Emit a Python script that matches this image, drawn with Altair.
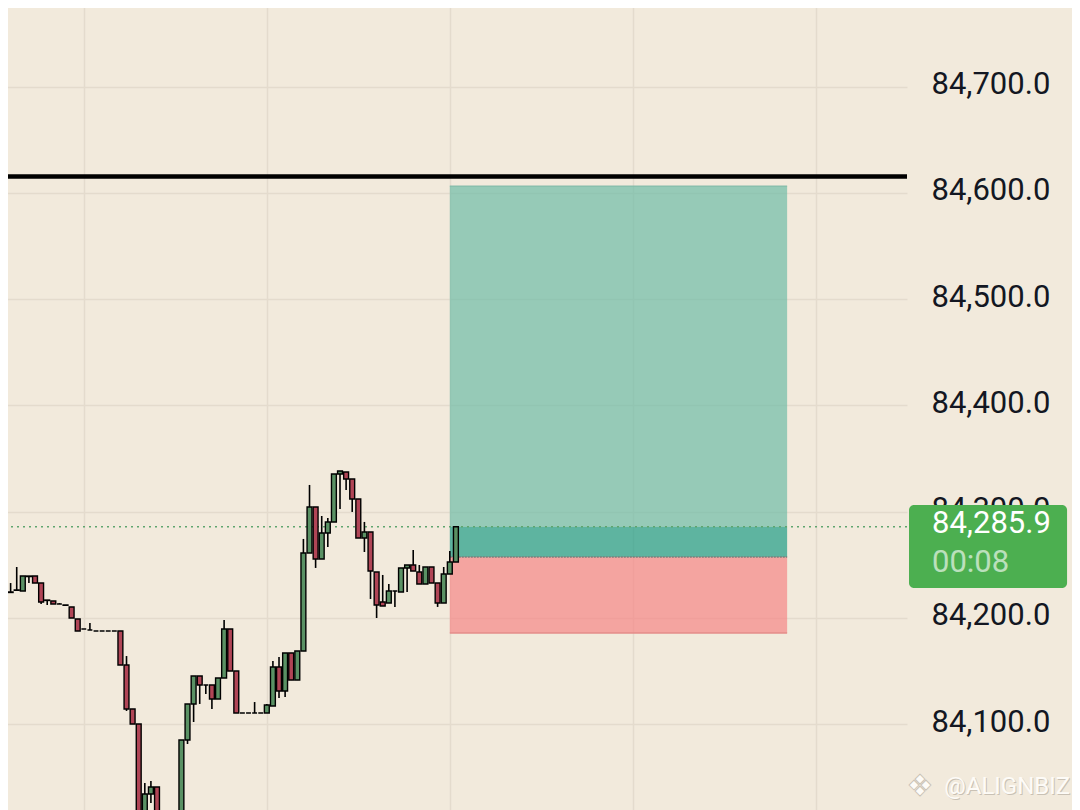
import altair as alt
import pandas as pd

# ---- candle data (index, OHLC) ----
opens = [84241.4, 84224.5, 84226.4, 84225.4, 84239.5, 84239.5, 84232.9, 84216.9, 84216.0, 84213.2,
         84212.2, 84210.4, 84199.1, 84189.6, 84188.7, 84187.8, 84187.8, 84187.8, 84187.8, 84187.8,
         84155.8, 84114.4, 84100.2, 84005.0, 84034.4, 84040.9, 84000.0, 83970.0, 83985.0, 84000.0,
         84085.2, 84119.1, 84145.4, 84136.9, 84136.9, 84123.8, 84143.5, 84189.6, 84150.1, 84110.6,
         84110.6, 84110.6, 84110.6, 84110.6, 84117.2, 84153.9, 84131.3, 84167.1, 84141.6, 84168.9,
         84261.2, 84304.5, 84255.5, 84280.0, 84290.4, 84335.5, 84337.4, 84330.8, 84312.0, 84275.3,
         84280.9, 84243.3, 84215.1, 84214.1, 84225.4, 84224.5, 84247.1, 84249.9, 84243.3, 84232.0,
         84248.0, 84232.9, 84214.1, 84241.4, 84252.7]
highs = [84241.4, 84232.9, 84248.0, 84239.5, 84239.5, 84239.5, 84232.9, 84216.9, 84216.0, 84214.0,
         84212.2, 84210.4, 84199.1, 84189.6, 84195.3, 84187.8, 84187.8, 84187.8, 84187.8, 84187.8,
         84164.2, 84114.4, 84100.2, 84044.7, 84046.6, 84040.9, 84005.0, 83990.0, 84008.0, 84085.2,
         84119.1, 84145.4, 84145.4, 84136.9, 84136.9, 84143.5, 84198.1, 84189.6, 84150.1, 84110.6,
         84110.6, 84120.9, 84110.6, 84119.1, 84159.5, 84163.3, 84167.1, 84167.1, 84168.9, 84274.4,
         84325.2, 84304.5, 84296.0, 84294.1, 84335.5, 84338.3, 84337.4, 84330.8, 84312.0, 84290.4,
         84280.9, 84243.3, 84240.5, 84232.0, 84225.4, 84247.1, 84249.9, 84264.0, 84249.9, 84248.0,
         84248.0, 84232.9, 84248.0, 84263.1, 84285.9]
lows = [84224.5, 84224.0, 84225.5, 84225.4, 84232.9, 84232.9, 84213.2, 84212.2, 84213.2, 84213.2,
        84212.0, 84200.0, 84187.8, 84189.6, 84188.7, 84187.8, 84187.8, 84187.8, 84187.8, 84155.8,
        84112.5, 84100.2, 83980.0, 83995.0, 84025.9, 83995.0, 83960.0, 83955.0, 83975.0, 83990.0,
        84081.4, 84102.1, 84119.1, 84128.5, 84114.4, 84123.8, 84143.5, 84150.1, 84110.6, 84110.6,
        84110.6, 84110.6, 84110.6, 84110.6, 84117.2, 84124.7, 84125.6, 84141.6, 84141.6, 84168.9,
        84261.2, 84247.1, 84255.5, 84266.8, 84290.4, 84302.6, 84320.5, 84299.8, 84275.3, 84262.1,
        84217.9, 84200.0, 84211.3, 84214.1, 84210.4, 84224.5, 84224.5, 84244.2, 84232.0, 84232.0,
        84232.9, 84210.4, 84214.1, 84241.4, 84252.7]
closes = [84224.5, 84224.0, 84226.0, 84239.5, 84239.0, 84232.9, 84215.1, 84216.5, 84213.2, 84213.2,
          84212.0, 84200.0, 84187.8, 84189.6, 84188.7, 84187.8, 84187.8, 84187.8, 84187.8, 84155.8,
          84114.4, 84100.2, 83985.0, 84034.4, 84040.9, 84000.0, 83970.0, 83985.0, 84000.0, 84085.2,
          84119.1, 84145.4, 84136.9, 84136.9, 84123.8, 84143.5, 84189.6, 84150.1, 84110.6, 84110.6,
          84110.6, 84110.6, 84110.6, 84118.1, 84153.9, 84131.3, 84167.1, 84141.6, 84168.9, 84261.2,
          84304.5, 84255.5, 84280.0, 84290.4, 84335.5, 84338.3, 84330.8, 84312.0, 84275.3, 84280.9,
          84244.2, 84212.2, 84211.3, 84225.4, 84225.4, 84247.1, 84249.9, 84244.2, 84232.0, 84248.0,
          84232.9, 84214.1, 84241.4, 84252.7, 84285.9]

# ---- levels / annotations ----
price_ticks = [84100, 84200, 84300, 84400, 84500, 84600, 84700]
time_grid = [13, 43, 73, 103, 133]
resistance_level = 84615.5
last_price = 84285.9
last_price_text = "84,285.9"
countdown_text = "00:08"
entry_price = 84257.4
target_price = 84606.5
stop_price = 84185.8
position_start = 73
position_end = 128.3
watermark = "@ALIGNBIZ"

X_DOMAIN = [-0.74, 147.95]
Y_DOMAIN = [84019.3, 84781.6]

BG = "#F2EADC"
GRID = "#E4DBCD"
UP = "#5A9164"
DOWN = "#B04556"
FONT = "Roboto"

xs = alt.Scale(domain=X_DOMAIN, nice=False, zero=False)
ys = alt.Scale(domain=Y_DOMAIN, nice=False, zero=False)

xaxis = alt.Axis(values=time_grid, labels=False, ticks=False, domain=False, grid=True,
                 gridColor=GRID, gridWidth=1.5, title=None)
yaxis = alt.Axis(orient="right", values=price_ticks, format=",.1f", grid=True, gridColor=GRID,
                 gridWidth=1.5, ticks=False, domain=False, labelFont=FONT, labelFontSize=31,
                 labelColor="#131722", labelPadding=24, labelAlign="left", labelBaseline="middle",
                 labelOffset=-2, title=None)


def X(field):
    return alt.X(field, type="quantitative", scale=xs, axis=xaxis)


def Y(field):
    return alt.Y(field, type="quantitative", scale=ys, axis=yaxis)


candles = pd.DataFrame({"i": list(range(len(opens))), "open": opens, "high": highs,
                        "low": lows, "close": closes})
candles["fill"] = [UP if c >= o else DOWN for o, c in zip(opens, closes)]

zones = pd.DataFrame({
    "x0": [position_start] * 3,
    "x1": [position_end] * 3,
    "y0": [last_price, entry_price, stop_price],
    "y1": [target_price, last_price, entry_price],
    "fill": ["#6FBCA7", "#209D86", "#F58686"],
})

zone_layer = alt.Chart(zones).mark_rect(opacity=0.7).encode(
    x=X("x0"), x2="x1", y=Y("y0"), y2="y1", fill=alt.Fill("fill:N", scale=None))

entry_df = pd.DataFrame({"x0": [position_start], "x1": [position_end], "y": [entry_price]})
entry_layer = alt.Chart(entry_df).mark_rule(color="#7C7F7B", strokeWidth=1.5, strokeDash=[2, 1]).encode(
    x=X("x0"), x2="x1", y=Y("y"))

target_df = pd.DataFrame({"x0": [position_start], "x1": [position_end], "y": [target_price]})
target_layer = alt.Chart(target_df).mark_rule(color="#7FB9A6", strokeWidth=1).encode(
    x=X("x0"), x2="x1", y=Y("y"))

stop_df = pd.DataFrame({"x0": [position_start], "x1": [position_end], "y": [stop_price]})
stop_layer = alt.Chart(stop_df).mark_rule(color="#E58C8A", strokeWidth=1.5).encode(
    x=X("x0"), x2="x1", y=Y("y"))

res_df = pd.DataFrame({"y": [resistance_level]})
res_layer = alt.Chart(res_df).mark_rule(color="#000000", strokeWidth=4.5).encode(y=Y("y"))

last_df = pd.DataFrame({"y": [last_price]})
last_layer = alt.Chart(last_df).mark_rule(color="#5FA56E", strokeWidth=1.6, strokeDash=[2, 4]).encode(y=Y("y"))

wick_layer = alt.Chart(candles).mark_rule(color="#000000", strokeWidth=1.6, clip=True).encode(
    x=X("i"), y=Y("low"), y2="high")

body_layer = alt.Chart(candles).transform_calculate(
    xl="datum.i - 0.4", xr="datum.i + 0.4"
).mark_rect(stroke="#000000", strokeWidth=1.4, clip=True).encode(
    x=X("xl"), x2="xr", y=Y("open"), y2="close", fill=alt.Fill("fill:N", scale=None))

box_df = pd.DataFrame({"x0": [148.28], "x1": [174.19], "y0": [84228.2], "y1": [84306.3]})
box_layer = alt.Chart(box_df).mark_rect(fill="#4CAF50", cornerRadius=5, clip=False).encode(
    x=X("x0"), x2="x1", y=Y("y0"), y2="y1")

label_df = pd.DataFrame({"x": [152.05, 152.05], "y": [84288.4, 84252.2],
                         "t": [last_price_text, countdown_text], "op": [1.0, 0.62]})
label_layer = alt.Chart(label_df).mark_text(
    font=FONT, fontSize=31, align="left", baseline="middle", color="#FFFFFF", clip=False
).encode(x=X("x"), y=Y("y"), text="t:N", opacity=alt.Opacity("op:Q", scale=None))

wm_df = pd.DataFrame({"x": [174.7], "y": [84040.9], "t": [watermark]})
wm_shadow = alt.Chart(wm_df).mark_text(
    font=FONT, fontSize=24, align="right", baseline="middle", color="#C9C1B4", dx=1, dy=1, clip=False
).encode(x=X("x"), y=Y("y"), text="t:N")
wm_text = alt.Chart(wm_df).mark_text(
    font=FONT, fontSize=24, align="right", baseline="middle", color="#FDFBF7", clip=False
).encode(x=X("x"), y=Y("y"), text="t:N")

logo_df = pd.DataFrame({"x": [150.08], "y": [84040.9], "t": ["❖"]})
logo_layer = alt.Chart(logo_df).mark_text(
    font="DejaVu Sans", fontSize=30, align="center", baseline="middle", color="#FDFBF7",
    stroke="#C9C1B4", strokeWidth=0.8, clip=False
).encode(x=X("x"), y=Y("y"), text="t:N")

chart = alt.layer(
    zone_layer, entry_layer, target_layer, stop_layer, res_layer, last_layer,
    wick_layer, body_layer, box_layer, label_layer, wm_shadow, wm_text, logo_layer
).properties(
    width=907, height=810,
    padding={"left": -8, "top": -8, "right": 165, "bottom": 0},
    autosize=alt.AutoSizeParams(type="none"),
).configure(background=BG).configure_view(strokeWidth=0)

chart.save("out.html", embed_options={"renderer": "svg", "actions": False})
